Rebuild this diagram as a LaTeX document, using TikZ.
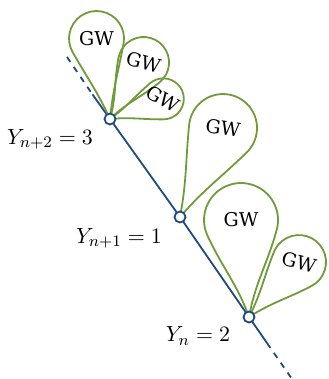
\documentclass[tikz,border=0pt]{standalone}
\usepackage{fontspec}
\setmainfont{DejaVu Serif}
\definecolor{chainblue}{RGB}{31,74,128}
\definecolor{gwgreen}{RGB}{112,155,58}

\begin{document}
\begin{tikzpicture}[x=0.5pt,y=0.5pt,
    spine/.style={line width=0.9pt,chainblue},
    gwloop/.style={line width=0.9pt,gwgreen},
    site/.style={circle,draw=chainblue,fill=white,line width=0.9pt,inner sep=0pt,minimum size=5.5pt},
    gwtext/.style={font=\fontsize{9.5}{11}\selectfont,inner sep=0.5pt},
    sitelabel/.style={font=\fontsize{11}{13}\selectfont,inner sep=1pt}]
  \useasboundingbox (0,0) rectangle (328,-379);
  \coordinate (y2) at (110,-119);
  \coordinate (y1) at (180,-217);
  \coordinate (y0) at (249,-317);
  \coordinate (topend) at (67,-57);
  \coordinate (topsolid) at (92.5,-94.5);
  \coordinate (botsolid) at (267,-343);
  \coordinate (botend) at (292,-379);
  \draw[spine,dashed] (topend) -- (topsolid);
  \draw[spine] (topsolid) -- (y2) -- (y1) -- (y0) -- (botsolid);
  \draw[spine,dashed] (botsolid) -- (botend);
  % the GW trees hanging off each site
  \foreach \vtx/\ang/\dist/\rad/\tilt[count=\nn] in {%
      y2/99.5/81.6/27.5/0,
      y2/59.3/65.7/25.5/-15,
      y2/20.7/57/20.5/-30,
      y1/64.2/98.8/34/-8,
      y0/94.7/97.3/37/0,
      y0/47.7/74.3/27/-15%
  }{%
    \begin{scope}[shift={(\vtx)},rotate=\ang]
      \draw[gwloop] (0,0) to[out=-15,in=160] ([shift={(-110:\rad)}]\dist,0)
        arc[start angle=-110,end angle=110,radius=\rad]
        to[out=200,in=15] (0,0);
      \node[gwtext,rotate=\tilt] (gw-\nn) at (\dist,0) {GW};
    \end{scope}
  }
  \node[site] (s2) at (y2) {};
  \node[site] (s1) at (y1) {};
  \node[site] (s0) at (y0) {};
  \node[sitelabel] (lab2) at (50,-139) {$Y_{n+2}=3$};
  \node[sitelabel] (lab1) at (119,-238) {$Y_{n+1}=1$};
  \node[sitelabel] (lab0) at (198,-336) {$Y_{n}=2$};
\end{tikzpicture}
\end{document}
